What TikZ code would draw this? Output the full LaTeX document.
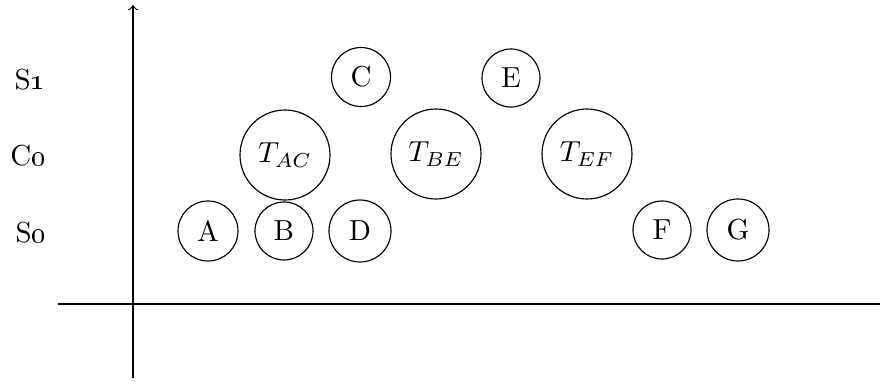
\documentclass[tikz,border=0pt]{standalone}
\begin{document}
\begin{tikzpicture}[x=0.345pt,y=-0.345pt,
  st/.style={circle,draw,inner sep=0pt,minimum size=#1*0.69pt},
  lab/.style={inner sep=0pt}]
\useasboundingbox (0,0) rectangle (880,385);
\coordinate (vb) at (133,378);
\coordinate (vt) at (133,5);
\coordinate (hl) at (58,304);
\coordinate (hr) at (882,304);
\draw[->] (vb) -- (vt);
\draw (hl) -- (hr);
\node[lab] (s1) at (30,80) {S\oldstylenums{1}};
\node[lab] (c0) at (28,156) {C\oldstylenums{0}};
\node[lab] (s0) at (31,233) {S\oldstylenums{0}};
\node[st=30] (A) at (208,231) {A};
\node[st=29] (B) at (284,231) {B};
\node[st=31] (D) at (360,231) {D};
\node[st=29.5] (C) at (361,77) {C};
\node[st=29] (E) at (511,78) {E};
\node[st=45] (TAC) at (285,155) {$T_{AC}$};
\node[st=45] (TBE) at (436,154) {$T_{BE}$};
\node[st=45] (TEF) at (587,154) {$T_{EF}$};
\node[st=29] (F) at (662,230) {F};
\node[st=31] (G) at (738,230) {G};
\end{tikzpicture}
\end{document}
